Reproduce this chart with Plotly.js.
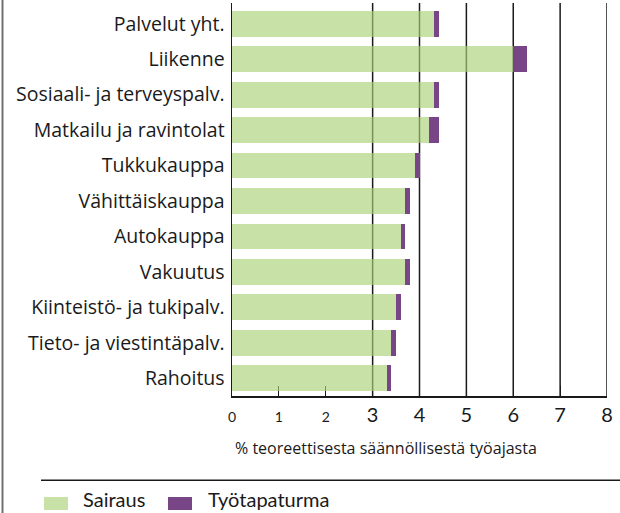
<!DOCTYPE html>
<html>
<head>
<meta charset="utf-8">
<script src="https://cdn.plot.ly/plotly-3.0.1.min.js"></script>
<style>
  html, body { margin: 0; padding: 0; background: #fff; }
  #chart { width: 620px; height: 513px; }
</style>
</head>
<body>
<div id="chart"></div>
<script>
// ---- data ----
const categories = [
  "Palvelut yht.",
  "Liikenne",
  "Sosiaali- ja terveyspalv.",
  "Matkailu ja ravintolat",
  "Tukkukauppa",
  "Vähittäiskauppa",
  "Autokauppa",
  "Vakuutus",
  "Kiinteistö- ja tukipalv.",
  "Tieto- ja viestintäpalv.",
  "Rahoitus"
];
const sairaus =      [4.3, 6.0, 4.3, 4.2, 3.9, 3.7, 3.6, 3.7, 3.5, 3.4, 3.3];
const tyotapaturma = [0.12, 0.3, 0.12, 0.22, 0.1, 0.1, 0.1, 0.09, 0.1, 0.1, 0.1];
const seriesNames = ["Sairaus", "Työtapaturma"];
const tickValues = [0, 1, 2, 3, 4, 5, 6, 7, 8];
const tickLabels = ["0", "1", "2", "3", "4", "5", "6", "7", "8"];
const gridValues = [3, 4, 5, 6, 7, 8];
const xTitle = "% teoreettisesta säännöllisestä työajasta";

// ---- styles ----
const greenFill = "rgba(170,209,118,0.65)";
const greenSwatch = "#c8e1a6";
const purple = "#784587";
const font = "Lato, 'Open Sans', sans-serif";
const catFont = "'Open Sans', Lato, sans-serif";
const textColor = "#1a1a1a";

// plot area geometry (pixels)
const W = 620, H = 513;
const M = { l: 232, r: 13, t: 3, b: 117 };
const pw = W - M.l - M.r, ph = H - M.t - M.b;
const px = x => (x - M.l) / pw;
const py = y => (H - M.b - y) / ph;

const ticktext = tickLabels.map((t, i) =>
  tickValues[i] < 3 ? '<span style="font-size:14px">' + t + '</span>' : t);

const traces = [
  {
    type: "bar", orientation: "h", name: seriesNames[0],
    y: categories, x: sairaus,
    marker: { color: greenFill, line: { width: 0 } },
    hoverinfo: "x+y", showlegend: false
  },
  {
    type: "bar", orientation: "h", name: seriesNames[1],
    y: categories, x: tyotapaturma,
    marker: { color: purple, line: { width: 0 } },
    hoverinfo: "x+y", showlegend: false
  }
];

const shapes = gridValues.map(v => ({
  type: "line", xref: "x", yref: "paper", x0: v, x1: v, y0: 0, y1: 1,
  line: { color: "#1a1a1a", width: 1.5 }, layer: "below"
}));
// left border
shapes.push({ type: "line", xref: "paper", yref: "paper",
  x0: px(2.5), x1: px(2.5), y0: py(0), y1: py(H),
  line: { color: "#707070", width: 2 }, layer: "above" });
// horizontal rule above legend
shapes.push({ type: "line", xref: "paper", yref: "paper",
  x0: px(41), x1: px(620), y0: py(480.3), y1: py(480.3),
  line: { color: "#1a1a1a", width: 1.5 }, layer: "above" });
// legend swatches
shapes.push({ type: "rect", xref: "paper", yref: "paper",
  x0: px(44), x1: px(68), y0: py(510), y1: py(497),
  fillcolor: greenSwatch, line: { width: 0 } });
shapes.push({ type: "rect", xref: "paper", yref: "paper",
  x0: px(168), x1: px(192), y0: py(510), y1: py(497),
  fillcolor: purple, line: { width: 0 } });

const annotations = [
  { text: xTitle, xref: "paper", yref: "paper", x: px(386), y: py(448),
    xanchor: "center", yanchor: "middle", showarrow: false,
    font: { family: catFont, size: 16, color: textColor } },
  { text: seriesNames[0], xref: "paper", yref: "paper", x: px(81), y: py(513),
    xanchor: "left", yanchor: "bottom", showarrow: false,
    font: { family: font, size: 20, color: textColor } },
  { text: seriesNames[1], xref: "paper", yref: "paper", x: px(206), y: py(513),
    xanchor: "left", yanchor: "bottom", showarrow: false,
    font: { family: font, size: 20, color: textColor } }
];

const layout = {
  width: W, height: H,
  margin: M,
  paper_bgcolor: "#fff", plot_bgcolor: "#fff",
  barmode: "stack", bargap: 0.27,
  showlegend: false,
  font: { family: font, color: textColor },
  xaxis: {
    range: [0, 8], fixedrange: true,
    tickvals: tickValues, ticktext: ticktext,
    showgrid: false, zeroline: false,
    showline: true, linecolor: "#1a1a1a", linewidth: 1.5,
    ticks: "inside", ticklen: 10, tickwidth: 1.2, tickcolor: "#1a1a1a",
    tickfont: { family: font, size: 20, color: textColor },
    layer: "below traces"
  },
  yaxis: {
    type: "category", categoryorder: "array", categoryarray: categories,
    range: [10.5, -0.585], fixedrange: true,
    showgrid: false, zeroline: false,
    showline: true, linecolor: "#1a1a1a", linewidth: 1.5,
    ticks: "", ticklabelstandoff: 2,
    tickfont: { family: catFont, size: 19.5, color: textColor },
    layer: "below traces"
  },
  shapes: shapes,
  annotations: annotations
};

Plotly.newPlot("chart", traces, layout, { staticPlot: true, displayModeBar: false });
</script>
</body>
</html>
